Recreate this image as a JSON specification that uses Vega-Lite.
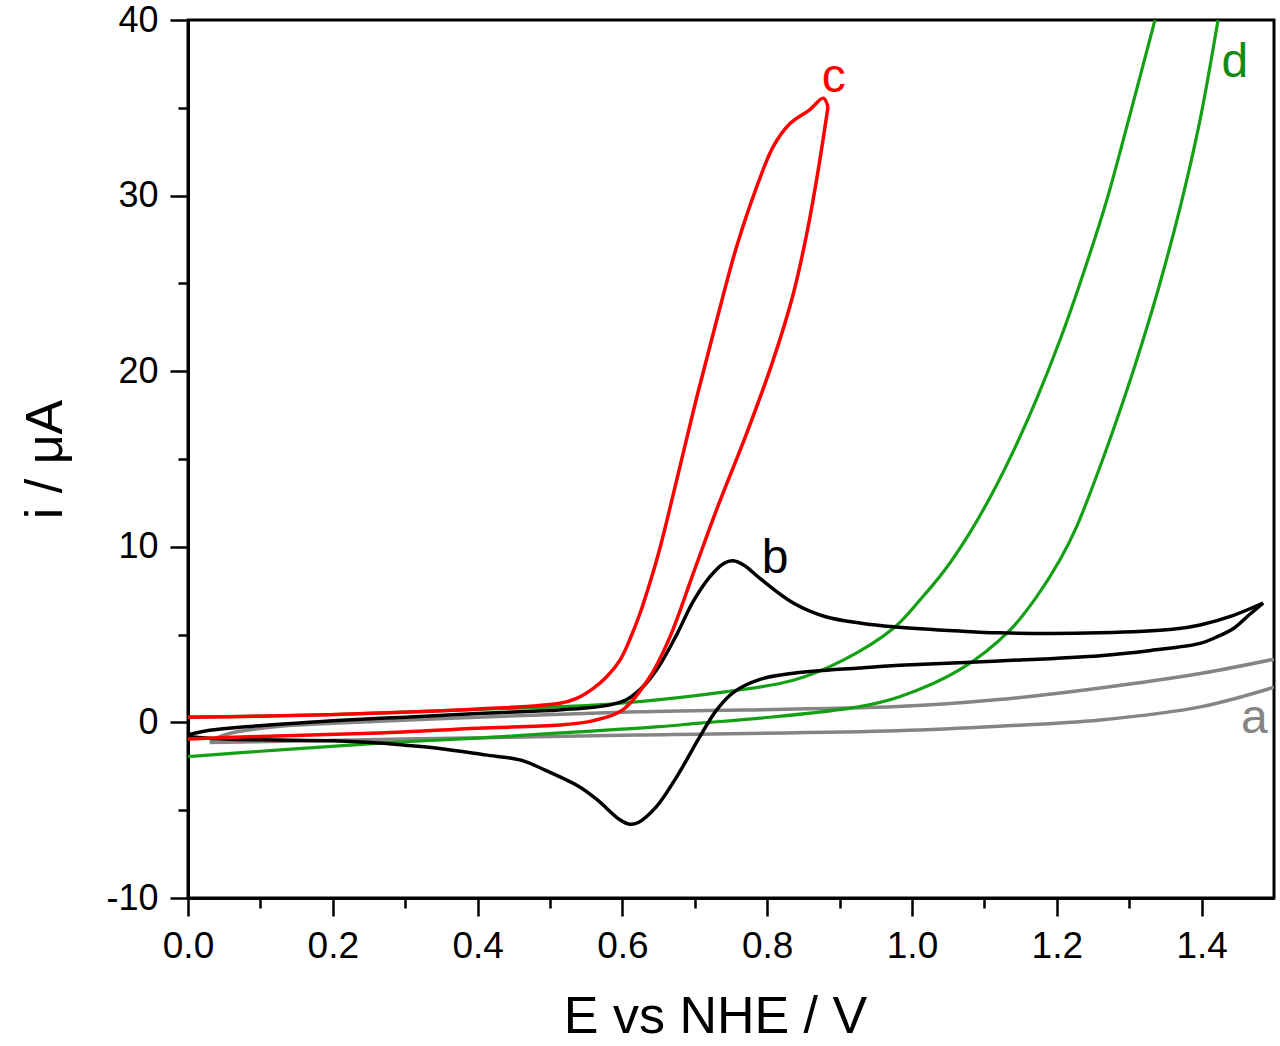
{
  "$schema": "https://vega.github.io/schema/vega-lite/v6.json",
  "width": 1086,
  "height": 878,
  "autosize": "none",
  "padding": {"left": 188, "top": 20, "right": 6, "bottom": 148},
  "background": "white",
  "config": {
    "view": {"stroke": "black", "strokeWidth": 3},
    "font": "Arial, Liberation Sans, sans-serif"
  },
  "datasets": {
    "cv": [
      {"curve": "a", "branch": "a1", "k": 1, "E": 0.03, "i": -1.05},
      {"curve": "a", "branch": "a1", "k": 2, "E": 0.06, "i": -0.6},
      {"curve": "a", "branch": "a1", "k": 3, "E": 0.12, "i": -0.25},
      {"curve": "a", "branch": "a1", "k": 4, "E": 0.2, "i": -0.05},
      {"curve": "a", "branch": "a1", "k": 5, "E": 0.4, "i": 0.3},
      {"curve": "a", "branch": "a1", "k": 6, "E": 0.62, "i": 0.6},
      {"curve": "a", "branch": "a1", "k": 7, "E": 0.98, "i": 0.9},
      {"curve": "a", "branch": "a1", "k": 8, "E": 1.12, "i": 1.3},
      {"curve": "a", "branch": "a1", "k": 9, "E": 1.26, "i": 1.96},
      {"curve": "a", "branch": "a1", "k": 10, "E": 1.4, "i": 2.8},
      {"curve": "a", "branch": "a1", "k": 11, "E": 1.5, "i": 3.6},
      {"curve": "a", "branch": "a2", "k": 1, "E": 1.5, "i": 2.0},
      {"curve": "a", "branch": "a2", "k": 2, "E": 1.4, "i": 0.9},
      {"curve": "a", "branch": "a2", "k": 3, "E": 1.26, "i": 0.14},
      {"curve": "a", "branch": "a2", "k": 4, "E": 1.12, "i": -0.22},
      {"curve": "a", "branch": "a2", "k": 5, "E": 0.98, "i": -0.47},
      {"curve": "a", "branch": "a2", "k": 6, "E": 0.62, "i": -0.72},
      {"curve": "a", "branch": "a2", "k": 7, "E": 0.3, "i": -0.95},
      {"curve": "a", "branch": "a2", "k": 8, "E": 0.03, "i": -1.15},

      {"curve": "b", "branch": "b1", "k": 1, "E": 0.0, "i": -0.7},
      {"curve": "b", "branch": "b1", "k": 2, "E": 0.03, "i": -0.45},
      {"curve": "b", "branch": "b1", "k": 3, "E": 0.08, "i": -0.25},
      {"curve": "b", "branch": "b1", "k": 4, "E": 0.127, "i": -0.1},
      {"curve": "b", "branch": "b1", "k": 5, "E": 0.2, "i": 0.1},
      {"curve": "b", "branch": "b1", "k": 6, "E": 0.3, "i": 0.3},
      {"curve": "b", "branch": "b1", "k": 7, "E": 0.4, "i": 0.5},
      {"curve": "b", "branch": "b1", "k": 8, "E": 0.5, "i": 0.68},
      {"curve": "b", "branch": "b1", "k": 9, "E": 0.545, "i": 0.8},
      {"curve": "b", "branch": "b1", "k": 10, "E": 0.583, "i": 1.0},
      {"curve": "b", "branch": "b1", "k": 11, "E": 0.606, "i": 1.3},
      {"curve": "b", "branch": "b1", "k": 12, "E": 0.63, "i": 2.1},
      {"curve": "b", "branch": "b1", "k": 13, "E": 0.652, "i": 3.3},
      {"curve": "b", "branch": "b1", "k": 14, "E": 0.675, "i": 5.0},
      {"curve": "b", "branch": "b1", "k": 15, "E": 0.698, "i": 6.9},
      {"curve": "b", "branch": "b1", "k": 16, "E": 0.721, "i": 8.3},
      {"curve": "b", "branch": "b1", "k": 17, "E": 0.74, "i": 9.05},
      {"curve": "b", "branch": "b1", "k": 18, "E": 0.753, "i": 9.2},
      {"curve": "b", "branch": "b1", "k": 19, "E": 0.768, "i": 8.95},
      {"curve": "b", "branch": "b1", "k": 20, "E": 0.79, "i": 8.2},
      {"curve": "b", "branch": "b1", "k": 21, "E": 0.836, "i": 6.8},
      {"curve": "b", "branch": "b1", "k": 22, "E": 0.882, "i": 6.0},
      {"curve": "b", "branch": "b1", "k": 23, "E": 0.93, "i": 5.65},
      {"curve": "b", "branch": "b1", "k": 24, "E": 0.974, "i": 5.45},
      {"curve": "b", "branch": "b1", "k": 25, "E": 1.066, "i": 5.2},
      {"curve": "b", "branch": "b1", "k": 26, "E": 1.12, "i": 5.1},
      {"curve": "b", "branch": "b1", "k": 27, "E": 1.26, "i": 5.1},
      {"curve": "b", "branch": "b1", "k": 28, "E": 1.36, "i": 5.3},
      {"curve": "b", "branch": "b1", "k": 29, "E": 1.398, "i": 5.55},
      {"curve": "b", "branch": "b1", "k": 30, "E": 1.444, "i": 6.1},
      {"curve": "b", "branch": "b1", "k": 31, "E": 1.485, "i": 6.8},
      {"curve": "b", "branch": "b2", "k": 1, "E": 1.485, "i": 6.8},
      {"curve": "b", "branch": "b2", "k": 2, "E": 1.465, "i": 6.1},
      {"curve": "b", "branch": "b2", "k": 3, "E": 1.444, "i": 5.35},
      {"curve": "b", "branch": "b2", "k": 4, "E": 1.42, "i": 4.85},
      {"curve": "b", "branch": "b2", "k": 5, "E": 1.398, "i": 4.5},
      {"curve": "b", "branch": "b2", "k": 6, "E": 1.33, "i": 4.1},
      {"curve": "b", "branch": "b2", "k": 7, "E": 1.26, "i": 3.8},
      {"curve": "b", "branch": "b2", "k": 8, "E": 1.12, "i": 3.5},
      {"curve": "b", "branch": "b2", "k": 9, "E": 0.983, "i": 3.25},
      {"curve": "b", "branch": "b2", "k": 10, "E": 0.928, "i": 3.1},
      {"curve": "b", "branch": "b2", "k": 11, "E": 0.836, "i": 2.8},
      {"curve": "b", "branch": "b2", "k": 12, "E": 0.79, "i": 2.45},
      {"curve": "b", "branch": "b2", "k": 13, "E": 0.753, "i": 1.7},
      {"curve": "b", "branch": "b2", "k": 14, "E": 0.73, "i": 0.7},
      {"curve": "b", "branch": "b2", "k": 15, "E": 0.707, "i": -0.81},
      {"curve": "b", "branch": "b2", "k": 16, "E": 0.675, "i": -3.1},
      {"curve": "b", "branch": "b2", "k": 17, "E": 0.647, "i": -4.8},
      {"curve": "b", "branch": "b2", "k": 18, "E": 0.622, "i": -5.7},
      {"curve": "b", "branch": "b2", "k": 19, "E": 0.61, "i": -5.8},
      {"curve": "b", "branch": "b2", "k": 20, "E": 0.597, "i": -5.56},
      {"curve": "b", "branch": "b2", "k": 21, "E": 0.565, "i": -4.4},
      {"curve": "b", "branch": "b2", "k": 22, "E": 0.54, "i": -3.65},
      {"curve": "b", "branch": "b2", "k": 23, "E": 0.495, "i": -2.75},
      {"curve": "b", "branch": "b2", "k": 24, "E": 0.46, "i": -2.15},
      {"curve": "b", "branch": "b2", "k": 25, "E": 0.41, "i": -1.85},
      {"curve": "b", "branch": "b2", "k": 26, "E": 0.35, "i": -1.5},
      {"curve": "b", "branch": "b2", "k": 27, "E": 0.3, "i": -1.3},
      {"curve": "b", "branch": "b2", "k": 28, "E": 0.265, "i": -1.18},
      {"curve": "b", "branch": "b2", "k": 29, "E": 0.2, "i": -1.05},
      {"curve": "b", "branch": "b2", "k": 30, "E": 0.127, "i": -1.0},
      {"curve": "b", "branch": "b2", "k": 31, "E": 0.05, "i": -0.95},
      {"curve": "b", "branch": "b2", "k": 32, "E": 0.0, "i": -0.8},

      {"curve": "c", "branch": "c1", "k": 1, "E": 0.0, "i": -0.95},
      {"curve": "c", "branch": "c1", "k": 2, "E": 0.1, "i": -0.8},
      {"curve": "c", "branch": "c1", "k": 3, "E": 0.265, "i": -0.6},
      {"curve": "c", "branch": "c1", "k": 4, "E": 0.4, "i": -0.33},
      {"curve": "c", "branch": "c1", "k": 5, "E": 0.514, "i": -0.15},
      {"curve": "c", "branch": "c1", "k": 6, "E": 0.56, "i": 0.1},
      {"curve": "c", "branch": "c1", "k": 7, "E": 0.6, "i": 0.7},
      {"curve": "c", "branch": "c1", "k": 8, "E": 0.638, "i": 2.6},
      {"curve": "c", "branch": "c1", "k": 9, "E": 0.666, "i": 4.9},
      {"curve": "c", "branch": "c1", "k": 10, "E": 0.698, "i": 8.5},
      {"curve": "c", "branch": "c1", "k": 11, "E": 0.73, "i": 12.1},
      {"curve": "c", "branch": "c1", "k": 12, "E": 0.772, "i": 16.5},
      {"curve": "c", "branch": "c1", "k": 13, "E": 0.808, "i": 20.6},
      {"curve": "c", "branch": "c1", "k": 14, "E": 0.836, "i": 24.4},
      {"curve": "c", "branch": "c1", "k": 15, "E": 0.855, "i": 27.9},
      {"curve": "c", "branch": "c1", "k": 16, "E": 0.869, "i": 31.1},
      {"curve": "c", "branch": "c1", "k": 17, "E": 0.884, "i": 35.05},
      {"curve": "c", "branch": "c2", "k": 1, "E": 0.884, "i": 35.05},
      {"curve": "c", "branch": "c2", "k": 2, "E": 0.8775, "i": 35.55},
      {"curve": "c", "branch": "c2", "k": 3, "E": 0.859, "i": 34.9},
      {"curve": "c", "branch": "c2", "k": 4, "E": 0.8315, "i": 34.1},
      {"curve": "c", "branch": "c2", "k": 5, "E": 0.8085, "i": 32.8},
      {"curve": "c", "branch": "c2", "k": 6, "E": 0.7855, "i": 30.5},
      {"curve": "c", "branch": "c2", "k": 7, "E": 0.7578, "i": 27.1},
      {"curve": "c", "branch": "c2", "k": 8, "E": 0.7302, "i": 22.9},
      {"curve": "c", "branch": "c2", "k": 9, "E": 0.7026, "i": 18.5},
      {"curve": "c", "branch": "c2", "k": 10, "E": 0.675, "i": 13.8},
      {"curve": "c", "branch": "c2", "k": 11, "E": 0.652, "i": 9.95},
      {"curve": "c", "branch": "c2", "k": 12, "E": 0.638, "i": 7.95},
      {"curve": "c", "branch": "c2", "k": 13, "E": 0.6243, "i": 6.2},
      {"curve": "c", "branch": "c2", "k": 14, "E": 0.6105, "i": 4.75},
      {"curve": "c", "branch": "c2", "k": 15, "E": 0.5967, "i": 3.55},
      {"curve": "c", "branch": "c2", "k": 16, "E": 0.5783, "i": 2.6},
      {"curve": "c", "branch": "c2", "k": 17, "E": 0.5598, "i": 1.94},
      {"curve": "c", "branch": "c2", "k": 18, "E": 0.5368, "i": 1.37},
      {"curve": "c", "branch": "c2", "k": 19, "E": 0.5138, "i": 1.09},
      {"curve": "c", "branch": "c2", "k": 20, "E": 0.4, "i": 0.76},
      {"curve": "c", "branch": "c2", "k": 21, "E": 0.265, "i": 0.53},
      {"curve": "c", "branch": "c2", "k": 22, "E": 0.1, "i": 0.35},
      {"curve": "c", "branch": "c2", "k": 23, "E": 0.0, "i": 0.3},

      {"curve": "d", "branch": "d1", "k": 1, "E": 0.0, "i": -1.95},
      {"curve": "d", "branch": "d1", "k": 2, "E": 0.132, "i": -1.55},
      {"curve": "d", "branch": "d1", "k": 3, "E": 0.265, "i": -1.18},
      {"curve": "d", "branch": "d1", "k": 4, "E": 0.4, "i": -0.9},
      {"curve": "d", "branch": "d1", "k": 5, "E": 0.514, "i": -0.6},
      {"curve": "d", "branch": "d1", "k": 6, "E": 0.652, "i": -0.24},
      {"curve": "d", "branch": "d1", "k": 7, "E": 0.707, "i": -0.04},
      {"curve": "d", "branch": "d1", "k": 8, "E": 0.79, "i": 0.24},
      {"curve": "d", "branch": "d1", "k": 9, "E": 0.928, "i": 0.9},
      {"curve": "d", "branch": "d1", "k": 10, "E": 0.983, "i": 1.46},
      {"curve": "d", "branch": "d1", "k": 11, "E": 1.066, "i": 3.0},
      {"curve": "d", "branch": "d1", "k": 12, "E": 1.1354, "i": 5.26},
      {"curve": "d", "branch": "d1", "k": 13, "E": 1.1722, "i": 7.16},
      {"curve": "d", "branch": "d1", "k": 14, "E": 1.2044, "i": 9.26},
      {"curve": "d", "branch": "d1", "k": 15, "E": 1.2274, "i": 11.15},
      {"curve": "d", "branch": "d1", "k": 16, "E": 1.2597, "i": 14.56},
      {"curve": "d", "branch": "d1", "k": 17, "E": 1.2942, "i": 18.6},
      {"curve": "d", "branch": "d1", "k": 18, "E": 1.3204, "i": 21.95},
      {"curve": "d", "branch": "d1", "k": 19, "E": 1.3407, "i": 24.75},
      {"curve": "d", "branch": "d1", "k": 20, "E": 1.3715, "i": 29.52},
      {"curve": "d", "branch": "d1", "k": 21, "E": 1.3978, "i": 34.3},
      {"curve": "d", "branch": "d1", "k": 22, "E": 1.4227, "i": 40.0},
      {"curve": "d", "branch": "d2", "k": 1, "E": 1.3356, "i": 40.0},
      {"curve": "d", "branch": "d2", "k": 2, "E": 1.301, "i": 34.6},
      {"curve": "d", "branch": "d2", "k": 3, "E": 1.268, "i": 29.6},
      {"curve": "d", "branch": "d2", "k": 4, "E": 1.232, "i": 25.0},
      {"curve": "d", "branch": "d2", "k": 5, "E": 1.2044, "i": 21.78},
      {"curve": "d", "branch": "d2", "k": 6, "E": 1.172, "i": 18.41},
      {"curve": "d", "branch": "d2", "k": 7, "E": 1.14, "i": 15.45},
      {"curve": "d", "branch": "d2", "k": 8, "E": 1.11, "i": 12.98},
      {"curve": "d", "branch": "d2", "k": 9, "E": 1.08, "i": 10.81},
      {"curve": "d", "branch": "d2", "k": 10, "E": 1.045, "i": 8.66},
      {"curve": "d", "branch": "d2", "k": 11, "E": 1.011, "i": 6.97},
      {"curve": "d", "branch": "d2", "k": 12, "E": 0.974, "i": 5.35},
      {"curve": "d", "branch": "d2", "k": 13, "E": 0.905, "i": 3.55},
      {"curve": "d", "branch": "d2", "k": 14, "E": 0.836, "i": 2.4},
      {"curve": "d", "branch": "d2", "k": 15, "E": 0.744, "i": 1.75},
      {"curve": "d", "branch": "d2", "k": 16, "E": 0.606, "i": 1.12},
      {"curve": "d", "branch": "d2", "k": 17, "E": 0.514, "i": 0.9},
      {"curve": "d", "branch": "d2", "k": 18, "E": 0.4, "i": 0.74},
      {"curve": "d", "branch": "d2", "k": 19, "E": 0.2, "i": 0.45},
      {"curve": "d", "branch": "d2", "k": 20, "E": 0.0, "i": 0.3}
    ],
    "tags": [
      {"curve": "a", "E": 1.473, "i": -0.6},
      {"curve": "b", "E": 0.811, "i": 8.5},
      {"curve": "c", "E": 0.892, "i": 35.9},
      {"curve": "d", "E": 1.446, "i": 36.75}
    ]
  },
  "encoding": {
    "x": {
      "field": "E",
      "type": "quantitative",
      "scale": {"domain": [0, 1.5], "nice": false, "zero": false},
      "axis": {
        "title": "E vs NHE / V",
        "titleFont": "Arial, Liberation Sans, sans-serif",
        "titleFontSize": 52,
        "titleFontWeight": "normal",
        "titleColor": "black",
        "titlePadding": 27,
        "titleX": 527,
        "titleAlign": "center",
        "values": [0, 0.1, 0.2, 0.3, 0.4, 0.5, 0.6, 0.7, 0.8, 0.9, 1.0, 1.1, 1.2, 1.3, 1.4],
        "labelExpr": "round(datum.value * 10) % 2 === 0 ? format(datum.value, '.1f') : ''",
        "labelFontSize": 37,
        "labelColor": "black",
        "labelPadding": 12,
        "labelFlush": false,
        "labelOverlap": false,
        "tickSize": {"condition": {"test": "round(datum.value * 10) % 2 === 0", "value": 18}, "value": 10},
        "tickWidth": 2.5,
        "tickColor": "black",
        "domainColor": "black",
        "domainWidth": 3,
        "grid": false
      }
    },
    "y": {
      "field": "i",
      "type": "quantitative",
      "scale": {"domain": [-10, 40], "nice": false, "zero": false},
      "axis": {
        "title": "i / μA",
        "titleFont": "Arial, Liberation Sans, sans-serif",
        "titleFontSize": 52,
        "titleFontWeight": "normal",
        "titleColor": "black",
        "titlePadding": 33,
        "values": [-10, -5, 0, 5, 10, 15, 20, 25, 30, 35, 40],
        "labelExpr": "datum.value % 10 === 0 ? ('' + datum.value) : ''",
        "labelFontSize": 36,
        "labelColor": "black",
        "labelPadding": 12,
        "labelFlush": false,
        "labelOverlap": false,
        "tickSize": {"condition": {"test": "datum.value % 10 === 0", "value": 18}, "value": 10},
        "tickWidth": 2.5,
        "tickColor": "black",
        "domainColor": "black",
        "domainWidth": 3,
        "grid": false
      }
    }
  },
  "layer": [
    {
      "data": {"name": "cv"},
      "transform": [{"filter": "datum.curve === 'a'"}],
      "mark": {"type": "line", "color": "#858585", "strokeWidth": 3.5, "interpolate": "catmull-rom", "clip": true},
      "encoding": {"detail": {"field": "branch"}, "order": {"field": "k", "type": "quantitative"}}
    },
    {
      "data": {"name": "cv"},
      "transform": [{"filter": "datum.curve === 'd'"}],
      "mark": {"type": "line", "color": "#14a014", "strokeWidth": 3.2, "interpolate": "catmull-rom", "clip": true},
      "encoding": {"detail": {"field": "branch"}, "order": {"field": "k", "type": "quantitative"}}
    },
    {
      "data": {"name": "cv"},
      "transform": [{"filter": "datum.curve === 'b'"}],
      "mark": {"type": "line", "color": "black", "strokeWidth": 3.5, "interpolate": "catmull-rom", "clip": true},
      "encoding": {"detail": {"field": "branch"}, "order": {"field": "k", "type": "quantitative"}}
    },
    {
      "data": {"name": "cv"},
      "transform": [{"filter": "datum.curve === 'c'"}],
      "mark": {"type": "line", "color": "#ff0000", "strokeWidth": 3.5, "interpolate": "catmull-rom", "clip": true},
      "encoding": {"detail": {"field": "branch"}, "order": {"field": "k", "type": "quantitative"}}
    },
    {
      "data": {"name": "tags"},
      "mark": {"type": "text", "fontSize": 48, "align": "center", "baseline": "alphabetic", "font": "Arial, Liberation Sans, sans-serif"},
      "encoding": {
        "text": {"field": "curve"},
        "color": {
          "field": "curve",
          "type": "nominal",
          "scale": {"domain": ["a", "b", "c", "d"], "range": ["#858585", "black", "#ff0000", "#138a13"]},
          "legend": null
        }
      }
    }
  ]
}
